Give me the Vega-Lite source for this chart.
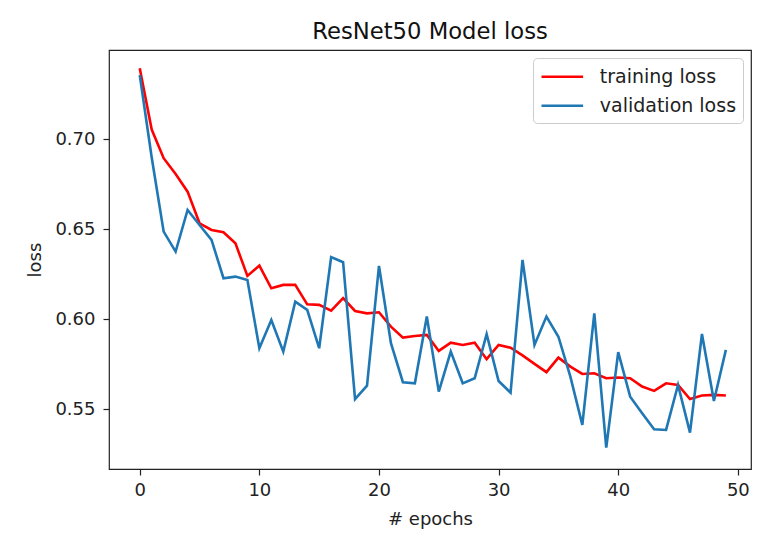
{
  "$schema": "https://vega.github.io/schema/vega-lite/v6.json",
  "width": 642,
  "height": 419,
  "autosize": {"type": "none"},
  "padding": {"left": 109, "top": 50, "right": 6, "bottom": 71},
  "background": "white",
  "title": {
    "text": "ResNet50 Model loss",
    "font": "DejaVu Sans",
    "fontSize": 22.7,
    "fontWeight": "normal",
    "color": "#111111",
    "offset": 6,
    "anchor": "middle"
  },
  "data": {
    "values": [
      {"epoch": 0, "training loss": 0.7396, "validation loss": 0.7358},
      {"epoch": 1, "training loss": 0.7055, "validation loss": 0.690},
      {"epoch": 2, "training loss": 0.6896, "validation loss": 0.6488},
      {"epoch": 3, "training loss": 0.6808, "validation loss": 0.6377},
      {"epoch": 4, "training loss": 0.6710, "validation loss": 0.6608},
      {"epoch": 5, "training loss": 0.6534, "validation loss": 0.6525},
      {"epoch": 6, "training loss": 0.6497, "validation loss": 0.6442},
      {"epoch": 7, "training loss": 0.6484, "validation loss": 0.6229},
      {"epoch": 8, "training loss": 0.6423, "validation loss": 0.6238},
      {"epoch": 9, "training loss": 0.6242, "validation loss": 0.6219},
      {"epoch": 10, "training loss": 0.6299, "validation loss": 0.5840},
      {"epoch": 11, "training loss": 0.6173, "validation loss": 0.5997},
      {"epoch": 12, "training loss": 0.6192, "validation loss": 0.5821},
      {"epoch": 13, "training loss": 0.6192, "validation loss": 0.6099},
      {"epoch": 14, "training loss": 0.6084, "validation loss": 0.6053},
      {"epoch": 15, "training loss": 0.6081, "validation loss": 0.5840},
      {"epoch": 16, "training loss": 0.6049, "validation loss": 0.6346},
      {"epoch": 17, "training loss": 0.6118, "validation loss": 0.6318},
      {"epoch": 18, "training loss": 0.6047, "validation loss": 0.5557},
      {"epoch": 19, "training loss": 0.6034, "validation loss": 0.5632},
      {"epoch": 20, "training loss": 0.6040, "validation loss": 0.6297},
      {"epoch": 21, "training loss": 0.5960, "validation loss": 0.5868},
      {"epoch": 22, "training loss": 0.5899, "validation loss": 0.5651},
      {"epoch": 23, "training loss": 0.5908, "validation loss": 0.5645},
      {"epoch": 24, "training loss": 0.5914, "validation loss": 0.6016},
      {"epoch": 25, "training loss": 0.5825, "validation loss": 0.5599},
      {"epoch": 26, "training loss": 0.5871, "validation loss": 0.5821},
      {"epoch": 27, "training loss": 0.5858, "validation loss": 0.5645},
      {"epoch": 28, "training loss": 0.5871, "validation loss": 0.5673},
      {"epoch": 29, "training loss": 0.5779, "validation loss": 0.5918},
      {"epoch": 30, "training loss": 0.5858, "validation loss": 0.5658},
      {"epoch": 31, "training loss": 0.5843, "validation loss": 0.5593},
      {"epoch": 32, "training loss": 0.5800, "validation loss": 0.6331},
      {"epoch": 33, "training loss": 0.5753, "validation loss": 0.5858},
      {"epoch": 34, "training loss": 0.5707, "validation loss": 0.6016},
      {"epoch": 35, "training loss": 0.5788, "validation loss": 0.5904},
      {"epoch": 36, "training loss": 0.5738, "validation loss": 0.5682},
      {"epoch": 37, "training loss": 0.5697, "validation loss": 0.5414},
      {"epoch": 38, "training loss": 0.5701, "validation loss": 0.6034},
      {"epoch": 39, "training loss": 0.5673, "validation loss": 0.5288},
      {"epoch": 40, "training loss": 0.5677, "validation loss": 0.5818},
      {"epoch": 41, "training loss": 0.5673, "validation loss": 0.5571},
      {"epoch": 42, "training loss": 0.5627, "validation loss": 0.5479},
      {"epoch": 43, "training loss": 0.5603, "validation loss": 0.5390},
      {"epoch": 44, "training loss": 0.5645, "validation loss": 0.5386},
      {"epoch": 45, "training loss": 0.5636, "validation loss": 0.5636},
      {"epoch": 46, "training loss": 0.5558, "validation loss": 0.5371},
      {"epoch": 47, "training loss": 0.5577, "validation loss": 0.5919},
      {"epoch": 48, "training loss": 0.5581, "validation loss": 0.5547},
      {"epoch": 49, "training loss": 0.5577, "validation loss": 0.5831}
    ]
  },
  "transform": [
    {"fold": ["training loss", "validation loss"], "as": ["series", "loss"]}
  ],
  "mark": {"type": "line", "strokeWidth": 2.6, "clip": true},
  "encoding": {
    "x": {
      "field": "epoch",
      "type": "quantitative",
      "scale": {"domain": [-2.57, 51.1], "nice": false, "zero": false},
      "axis": {
        "title": "# epochs",
        "values": [0, 10, 20, 30, 40, 50],
        "format": "d",
        "grid": false,
        "labelPadding": 6,
        "titlePadding": 11
      }
    },
    "y": {
      "field": "loss",
      "type": "quantitative",
      "scale": {"domain": [0.5169, 0.7497], "nice": false, "zero": false},
      "axis": {
        "title": "loss",
        "values": [0.55, 0.6, 0.65, 0.7],
        "format": ".2f",
        "grid": false,
        "labelPadding": 8,
        "titlePadding": 10
      }
    },
    "color": {
      "field": "series",
      "type": "nominal",
      "scale": {"domain": ["training loss", "validation loss"], "range": ["#ff0000", "#1f77b4"]},
      "legend": {
        "title": null,
        "orient": "top-right",
        "offset": 8,
        "symbolType": "M-1,0H3.06",
        "symbolSize": 420,
        "symbolStrokeWidth": 2.6,
        "labelFontSize": 19,
        "labelFont": "DejaVu Sans",
        "labelColor": "#222222",
        "labelOffset": 36,
        "rowPadding": 7,
        "padding": 6.75,
        "cornerRadius": 4,
        "strokeColor": "#cccccc",
        "fillColor": "rgba(255,255,255,0.8)"
      }
    }
  },
  "config": {
    "font": "DejaVu Sans",
    "view": {"stroke": "#222222", "strokeWidth": 1.2},
    "axis": {
      "domain": false,
      "tickColor": "#222222",
      "tickSize": 6,
      "tickWidth": 1.2,
      "labelFont": "DejaVu Sans",
      "labelFontSize": 18,
      "labelColor": "#222222",
      "titleFont": "DejaVu Sans",
      "titleFontSize": 18,
      "titleFontWeight": "normal",
      "titleColor": "#222222"
    }
  }
}
